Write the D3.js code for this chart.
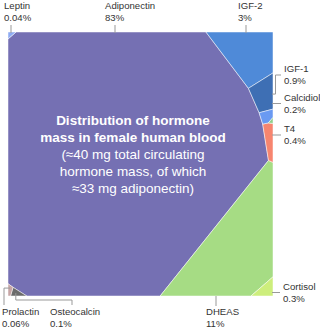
<!DOCTYPE html>
<html>
<head>
<meta charset="utf-8">
<script src="https://cdn.jsdelivr.net/npm/d3@7"></script>
<style>
  body { margin: 0; background: #fff; }
  text { font-family: "Liberation Sans", Arial, sans-serif; }
</style>
</head>
<body>
<svg id="chart" width="320" height="328"></svg>
<script>
// share of total circulating hormone mass (%)
var hormones   = ["Adiponectin", "DHEAS", "IGF-2", "IGF-1", "T4", "Cortisol", "Calcidiol", "Osteocalcin", "Prolactin", "Leptin", "other"];
var shares     = [83, 11, 3.4, 0.9, 0.4, 0.3, 0.2, 0.1, 0.06, 0.04, 0.02];
var shareText  = ["83%", "11%", "3%", "0.9%", "0.4%", "0.3%", "0.2%", "0.1%", "0.06%", "0.04%", ""];
var colors     = ["#7570b3", "#a6dc84", "#4f8ad8", "#3e6fb4", "#f7856f", "#cdee7c", "#6a9af2", "#6b6b6b", "#c7a5a5", "#8eabf2", "#8fd08a"];

// voronoi seed positions (unit square, layout only)
var seedX = [0.385, 0.80, 0.87, 0.945, 0.981, 0.974, 0.962, 0.042, 0.004, 0.004, 0.989];
var seedY = [0.447, 0.78, 0.08, 0.20, 0.352, 0.981, 0.265, 0.992, 0.981, 0.004, 0.288];

var titleLines = ["Distribution of hormone", "mass in female human blood"];
var noteLines  = ["(≈40 mg total circulating", "hormone mass, of which", "≈33 mg adiponectin)"];

var x0 = 8, x1 = 273, y0 = 32, y1 = 296;
var x = d3.scaleLinear().domain([0, 1]).range([x0, x1]);
var y = d3.scaleLinear().domain([0, 1]).range([y0, y1]);

var svg = d3.select("#chart");

var total = d3.sum(shares);
var box = (x1 - x0) * (y1 - y0);
var sites = hormones.map(function(h, i) {
  return { name: h, x: x(seedX[i]), y: y(seedY[i]), w: 0, target: shares[i] / total * box, i: i };
});

function clip(poly, a, b, c) {
  // keep a*x + b*y <= c
  var out = [];
  for (var k = 0; k < poly.length; k++) {
    var p = poly[k], q = poly[(k + 1) % poly.length];
    var fp = a * p[0] + b * p[1] - c, fq = a * q[0] + b * q[1] - c;
    if (fp <= 0) out.push(p);
    if ((fp < 0 && fq > 0) || (fp > 0 && fq < 0)) {
      var t = fp / (fp - fq);
      out.push([p[0] + t * (q[0] - p[0]), p[1] + t * (q[1] - p[1])]);
    }
  }
  return out;
}

function cells() {
  return sites.map(function(s) {
    var poly = [[x0, y0], [x1, y0], [x1, y1], [x0, y1]];
    sites.forEach(function(o) {
      if (o === s || poly.length < 3) return;
      var a = 2 * (o.x - s.x), b = 2 * (o.y - s.y);
      var c = (o.x * o.x + o.y * o.y - o.w) - (s.x * s.x + s.y * s.y - s.w);
      poly = clip(poly, a, b, c);
    });
    return poly;
  });
}

// power diagram: adjust weights until each cell area matches its share
var polys;
for (var it = 0; it < 6000; it++) {
  polys = cells();
  sites.forEach(function(s, i) {
    var area = polys[i].length > 2 ? Math.abs(d3.polygonArea(polys[i])) : 0;
    s.w += 0.5 * (s.target - area);
  });
}
polys = cells();

svg.append("g").selectAll("path")
  .data(sites)
  .enter()
  .append("path")
  .attr("d", function(d) { return polys[d.i].length > 2 ? "M" + polys[d.i].join("L") + "Z" : null; })
  .style("fill", function(d) { return colors[d.i]; })
  .style("stroke", "rgba(255,255,255,0.7)")
  .style("stroke-width", 0.7);

// labels
var labels = {
  "Leptin":      { lx: 4,   ly: 9,   side: "top",    lead: 11 },
  "Adiponectin": { lx: 105, ly: 9,   side: "top",    lead: 115 },
  "IGF-2":       { lx: 238, ly: 9,   side: "top",    lead: 246 },
  "IGF-1":       { lx: 284, ly: 72,  side: "right",  elbow: true },
  "Calcidiol":   { lx: 284, ly: 100.5, side: "right" },
  "T4":          { lx: 284, ly: 132, side: "right" },
  "Cortisol":    { lx: 283, ly: 289.5, side: "right" },
  "DHEAS":       { lx: 206, ly: 315, side: "bottom", lead: 216 },
  "Prolactin":   { lx: 2,   ly: 315, side: "corner", lead: 4 },
  "Osteocalcin": { lx: 50,  ly: 315, side: "corner", lead: 72, drop: 300 }
};

var line = d3.line();
var lab = svg.append("g");
sites.forEach(function(s, i) {
  var L = labels[s.name];
  if (!L) return;
  var c = d3.polygonCentroid(polys[i]);
  var pts;
  if (L.side === "top") {
    pts = [[L.lead, L.ly + 16], [L.lead, y0 + 1]];
  } else if (L.side === "right") {
    var ey = L.ly + 3;
    pts = L.elbow ? [[x1 - 1, c[1]], [x1 + 2.5, c[1]], [x1 + 2.5, ey], [L.lx - 3, ey]]
                  : [[x1 - 1, ey], [L.lx - 3, ey]];
  } else if (L.side === "bottom") {
    pts = [[L.lead, y1], [L.lead, L.ly - 9]];
  } else if (L.drop) {
    pts = [[c[0] - 1, c[1]], [c[0] - 1, L.drop], [L.lead, L.drop], [L.lead, L.ly - 10]];
  } else {
    pts = [[c[0], c[1] - 2], [L.lead, c[1] - 2], [L.lead, L.ly - 10]];
  }
  lab.append("path")
    .attr("d", line(pts))
    .style("fill", "none")
    .style("stroke", "#999")
    .style("stroke-width", 1);
  var t = lab.append("text")
    .attr("x", L.lx).attr("y", L.ly)
    .style("font-size", "9.6px").style("fill", "#333");
  t.append("tspan").attr("x", L.lx).text(s.name);
  t.append("tspan").attr("x", L.lx).attr("dy", 12).text(shareText[i]);
});

// title inside the adiponectin cell
var tx = 133;
var tt = svg.append("text")
  .attr("text-anchor", "middle")
  .style("fill", "#fff")
  .style("font-size", "13.5px");
titleLines.forEach(function(l, k) {
  tt.append("tspan").attr("x", tx).attr("y", 125 + k * 17).style("font-weight", "bold").text(l);
});
noteLines.forEach(function(l, k) {
  tt.append("tspan").attr("x", tx).attr("y", 159 + k * 17).text(l);
});
</script>
</body>
</html>
